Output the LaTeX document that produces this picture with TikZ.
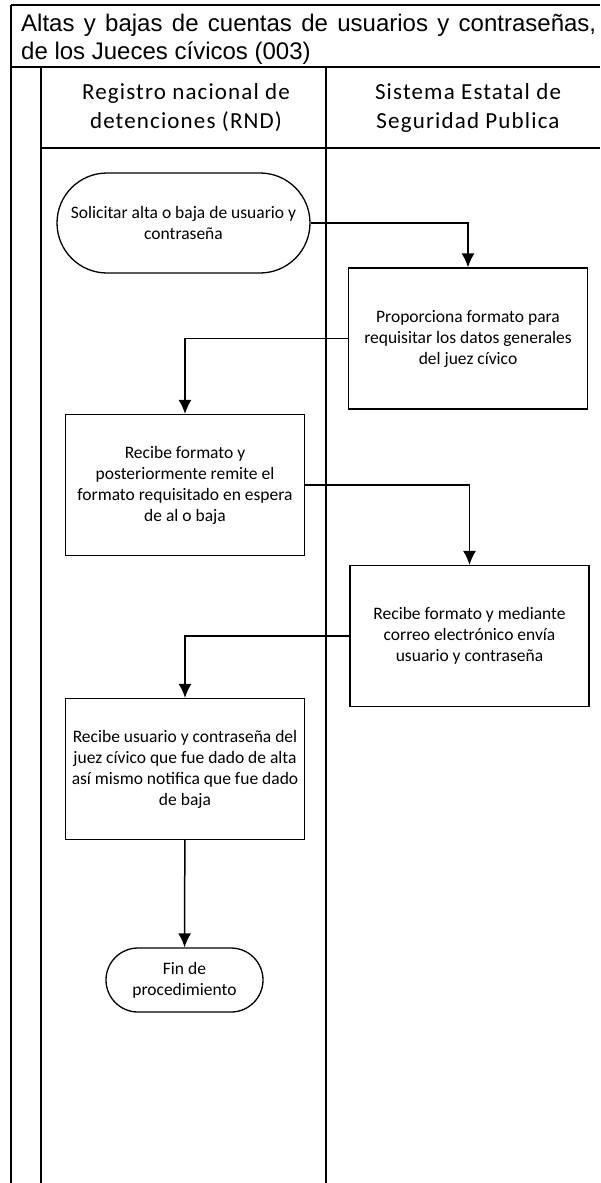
\documentclass[tikz,border=0pt]{standalone}
\usepackage{fontspec}
\setmainfont{Carlito}
\newfontfamily\titlefont{Liberation Sans}
\newfontfamily\headfont[LetterSpace=5]{Carlito}
\usepackage{tikz}
\usetikzlibrary{positioning}
\usetikzlibrary{arrows.meta}

\tikzset{
    lane/.style={line width=1.4pt},
    actividad/.style={draw, line width=1.2pt, minimum width=239pt, minimum height=141pt,
        inner sep=0pt, align=center, font=\fontsize{17.5}{21}\selectfont},
    terminal/.style={draw, line width=1.3pt, inner sep=0pt, align=center,
        font=\fontsize{17.5}{21}\selectfont},
    flujo/.style={line width=1.5pt, -{Latex[length=14pt,width=13pt]}},
    encabezado/.style={inner sep=0pt, align=center, font=\headfont\fontsize{23}{29}\selectfont},
    titulo/.style={anchor=west, inner sep=0pt, font=\titlefont\fontsize{24}{28}\selectfont}
}

\begin{document}
\begin{tikzpicture}[x=1pt, y=-1pt]
            \useasboundingbox (0,0) rectangle (600,1183);
            \draw[lane] (11,5) -- (600,5);
            \draw[lane] (11,5) -- (11,1183);
            \draw[lane] (11,67) -- (600,67);
            \draw[lane] (41,67) -- (41,1183);
            \draw[lane] (41,148) -- (600,148);
            \draw[lane] (326,67) -- (326,1183);
            \node[titulo] (titulo1) at (21,25) {\makebox[575pt][s]{Altas y bajas de cuentas de usuarios y contraseñas,}};
            \node[titulo] (titulo2) at (21,53) {de los Jueces cívicos (003)};
            \node[encabezado] (rnd) at (186,108) {Registro nacional de\\detenciones (RND)};
            \node[encabezado] (sesp) at (468,108) {Sistema Estatal de\\Seguridad Publica};
            \node[terminal, minimum width=253pt, minimum height=100pt, rounded corners=50pt] (solicitar) at (183.5,223)
                {Solicitar alta o baja de usuario y\\contraseña};
            \node[actividad] (proporciona) at (468,338.5)
                {Proporciona formato para\\requisitar los datos generales\\del juez cívico};
            \node[actividad] (recibeformato) at (185,485)
                {Recibe formato y\\posteriormente remite el\\formato requisitado en espera\\de al o baja};
            \node[actividad] (envia) at (469.5,636)
                {Recibe formato y mediante\\correo electrónico envía\\usuario y contraseña};
            \node[actividad] (recibeusuario) at (185,769)
                {Recibe usuario y contraseña del\\juez cívico que fue dado de alta\\así mismo notifica que fue dado\\de baja};
            \node[terminal, minimum width=157pt, minimum height=64pt, rounded corners=32pt] (fin) at (184.5,980)
                {Fin de\\procedimiento};
            \draw[flujo] (solicitar.east) -| (proporciona.north);
            \draw[flujo] (proporciona.west) -| (recibeformato.north);
            \draw[flujo] (recibeformato.east) -| (envia.north);
            \draw[flujo] (envia.west) -| (recibeusuario.north);
            \draw[flujo] (recibeusuario) -- (fin);
        \end{tikzpicture}
\end{document}
